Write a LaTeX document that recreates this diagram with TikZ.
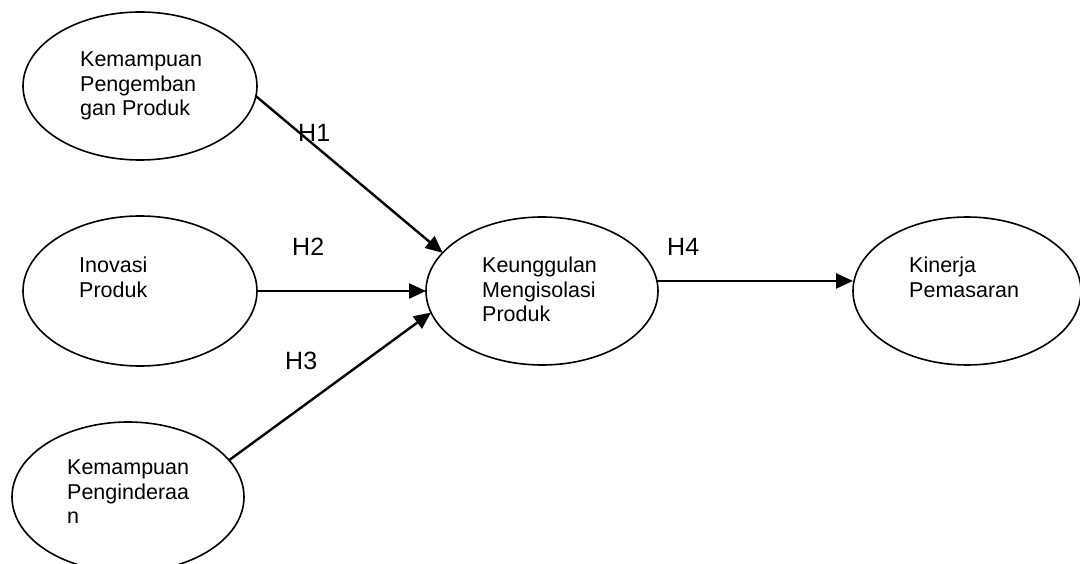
\documentclass[tikz,border=0pt]{standalone}
\usepackage{fontspec}
\setmainfont{Liberation Sans}
\usetikzlibrary{arrows.meta,shapes.geometric}

\begin{document}
\begin{tikzpicture}[x=1pt, y=1pt, line cap=round, line join=round, >={Triangle[length=17pt,width=15pt]},
	konstruk/.style={draw, ellipse, line width=1.6pt, inner sep=0pt, outer sep=0pt},
	isi/.style={anchor=north west, align=left, inner sep=0pt, font=\fontsize{21.5}{24.5}\selectfont},
	hipo/.style={anchor=base west, inner sep=0pt, font=\fontsize{25}{30}\selectfont},
	panah/.style={->, line width=2.4pt}]
	\useasboundingbox (0,0) rectangle (1080,563);
	\clip (0,0) rectangle (1080,563);
	% konstruk
	\foreach \nm/\px/\py/\wd/\ht in {e1/140/477/234/148, e2/140/272/234/150, e3/128/66/232/150, e4/542/272/232/148, e5/967/272/228/148}
	\node[konstruk, minimum width=\wd pt, minimum height=\ht pt] (\nm) at (\px,\py) {};
	% teks di dalam elips
	\node[isi] (t1) at ([xshift=-60pt,yshift=34pt]e1.center) {Kemampuan\\Pengemban\\gan Produk};
	\node[isi] (t2) at ([xshift=-61pt,yshift=34pt]e2.center) {Inovasi\\Produk};
	\node[isi] (t3) at ([xshift=-61pt,yshift=37pt]e3.center) {Kemampuan\\Penginderaa\\n};
	\node[isi] (t4) at ([xshift=-60pt,yshift=34pt]e4.center) {Keunggulan\\Mengisolasi\\Produk};
	\node[isi] (t5) at ([xshift=-58pt,yshift=34pt]e5.center) {Kinerja\\Pemasaran};
	% hubungan
	\draw[panah] (e1.-5.5) -- (e4.159.6);
	\draw[panah] (e2.east) -- (e4.west);
	\draw[panah] (e3.20) -- (e4.191);
	\draw[panah] (e4.5) -- (e4.5 -| e5.west);
	\foreach \nm/\px/\py/\lbl in {h1/298/421/H1, h2/292/307/H2, h3/285/193/H3, h4/667/307/H4}
	\node[hipo] (\nm) at (\px,\py) {\lbl};
\end{tikzpicture}
\end{document}
